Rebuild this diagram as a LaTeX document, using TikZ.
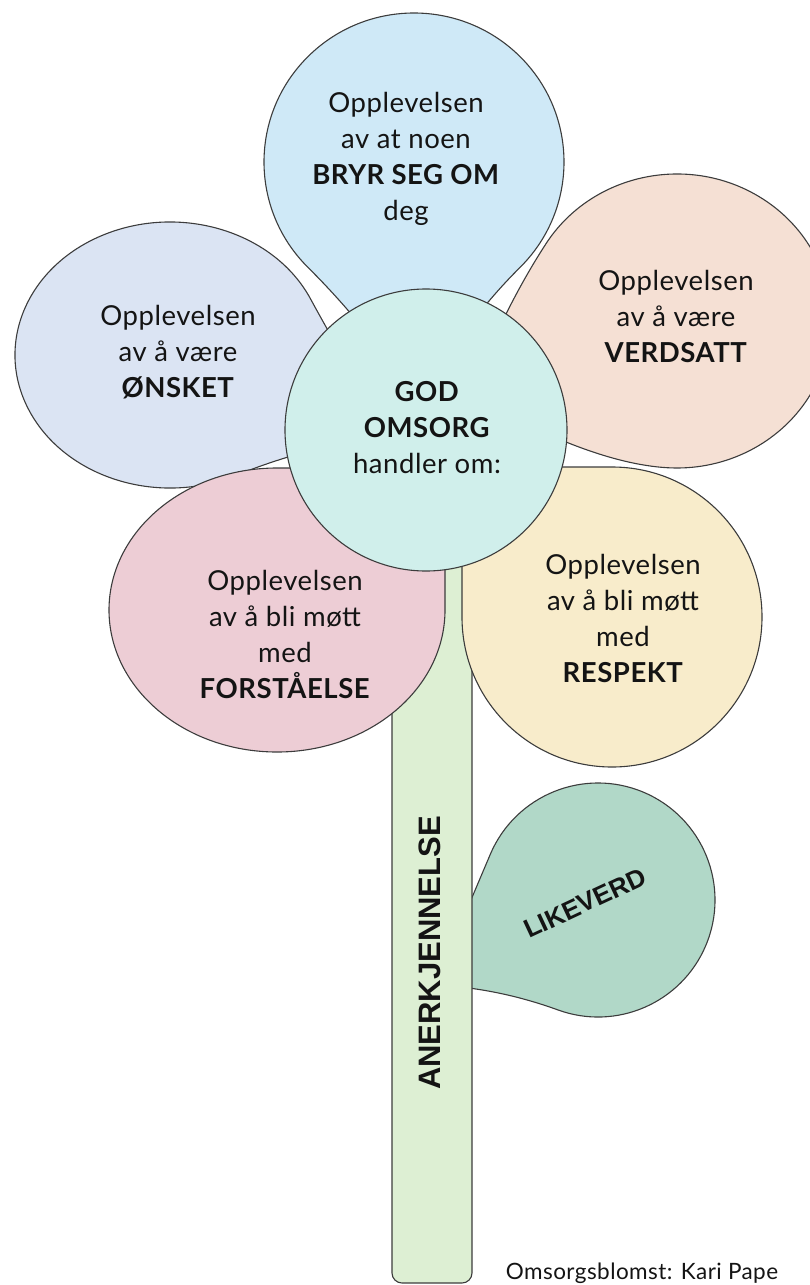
\documentclass[tikz,border=0pt]{standalone}
\usepackage{fontspec}
\setmainfont{Lato}[LetterSpace=2]
\newfontfamily\arialfont{Liberation Sans}
\usetikzlibrary{calc}
\definecolor{outl}{RGB}{60,60,60}
\definecolor{txt}{RGB}{20,20,20}
\definecolor{cblue}{RGB}{207,233,247}
\definecolor{clav}{RGB}{219,228,243}
\definecolor{cpeach}{RGB}{245,224,212}
\definecolor{cpink}{RGB}{237,205,213}
\definecolor{cyellow}{RGB}{248,236,203}
\definecolor{cmint}{RGB}{208,239,235}
\definecolor{cstem}{RGB}{221,239,211}
\definecolor{cgreen}{RGB}{177,216,200}
% #1 fill, #2 centre "x,y", #3 rx, #4 ry, #5 tA, #6 tB, #7 tip "x,y", #8 a
\newcommand{\petal}[8]{%
  \path ($(#2)+({#3*cos(#5)},{#4*sin(#5)})$) coordinate (pA)
        ($(#2)+({#3*cos(#6)},{#4*sin(#6)})$) coordinate (pB)
        ($(pA)+{#8/2}*({-#3*sin(#5)},{#4*cos(#5)})$) coordinate (qA)
        ($(pB)-{#8/2}*({-#3*sin(#6)},{#4*cos(#6)})$) coordinate (qB)
        (#7) coordinate (pT);
  \filldraw[petalline, fill=#1] (pB)
    arc[start angle=#6, end angle={#5+360}, x radius=#3, y radius=#4]
    .. controls ($(pA)!2/3!(qA)$) and ($(pT)!2/3!(qA)$) .. (pT)
    .. controls ($(pT)!2/3!(qB)$) and ($(pB)!2/3!(qB)$) .. (pB) -- cycle;
}
\tikzset{
  petalline/.style={draw=outl, line width=1.1pt},
  ptext/.style={align=center, font=\fontsize{27.5}{36}\selectfont, text=txt, inner sep=0pt},
  btext/.style={font=\arialfont\bfseries\fontsize{31}{33}\selectfont, text=txt, inner sep=0pt}
}
\begin{document}
\begin{tikzpicture}[x=1pt,y=-1pt]
\useasboundingbox (0,0) rectangle (810,1285);
% LIKEVERD leaf
\petal{cgreen}{598,900}{117}{117}{110}{203}{435,985}{1.1}
% stem
\filldraw[petalline, fill=cstem, rounded corners=10pt] (392,500) rectangle (472,1283);
% petals
\petal{cblue}{414,162}{150}{149}{45}{135}{420,406}{1.15}
\petal{clav}{170,355}{155}{133}{-25}{65}{392,436}{1.15}
\petal{cpeach}{677,321}{154}{147}{92}{212}{470,395}{1.0}
\petal{cpink}{277,610}{168}{142}{270}{360}{445,468}{1}
\petal{cyellow}{612,617}{150}{150}{180}{270}{462,467}{1}
% centre
\filldraw[petalline, fill=cmint] (426,430) circle[radius=141];
% texts
\node[ptext] (t1) at (406,159) {Opplevelsen\\av at noen\\\textbf{BRYR SEG OM}\\deg};
\node[ptext] (t2) at (178,352) {Opplevelsen\\av å være\\\textbf{ØNSKET}};
\node[ptext] (t3) at (676,316) {Opplevelsen\\av å være\\\textbf{VERDSATT}};
\node[ptext] (t4) at (285,634) {Opplevelsen\\av å bli møtt\\med\\\textbf{FORSTÅELSE}};
\node[ptext] (t5) at (623,618) {Opplevelsen\\av å bli møtt\\med\\\textbf{RESPEKT}};
\node[ptext] (tc) at (427,428) {\textbf{GOD}\\\textbf{OMSORG}\\handler om:};
\node[btext, rotate=90] (stemtxt) at (430,953) {ANERKJENNELSE};
\node[btext, rotate=25, font=\arialfont\bfseries\fontsize{26}{28}\selectfont] (leaftxt) at (585,903) {LIKEVERD};
\node[font=\fontsize{22.5}{26}\selectfont, text=txt, inner sep=0pt, anchor=base] (foot) at (642,1279) {Omsorgsblomst: Kari Pape};
\end{tikzpicture}
\end{document}
